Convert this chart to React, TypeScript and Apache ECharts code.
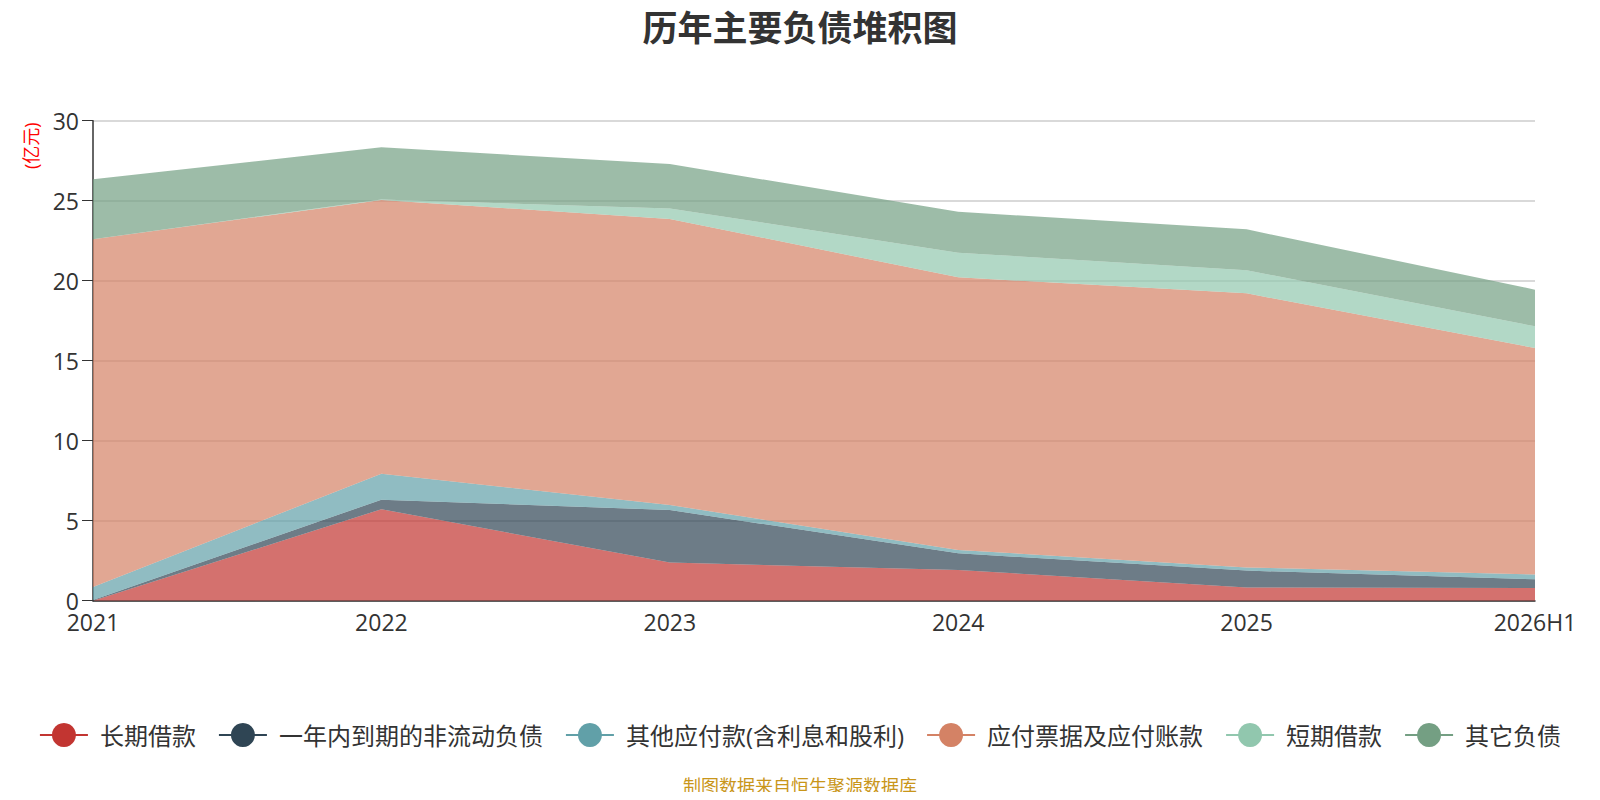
import React, { useEffect, useRef } from "react";
import * as echarts from "echarts";

const categories = ["2021", "2022", "2023", "2024", "2025", "2026H1"];
const longLoan = [0, 5.71, 2.38, 1.92, 0.83, 0.8];
const currentNonCurrent = [0.05, 0.6, 3.29, 1.04, 1.05, 0.54];
const otherPayables = [0.8, 1.63, 0.31, 0.21, 0.2, 0.3];
const notesPayable = [21.74, 17.1, 17.88, 17.04, 17.13, 14.15];
const shortLoan = [0, 0.03, 0.66, 1.54, 1.44, 1.36];
const otherLiab = [3.75, 3.27, 2.77, 2.56, 2.56, 2.29];

const seriesDefs = [
  { name: "长期借款", data: longLoan, color: "#c23531" },
  { name: "一年内到期的非流动负债", data: currentNonCurrent, color: "#2f4554" },
  { name: "其他应付款(含利息和股利)", data: otherPayables, color: "#61a0a8" },
  { name: "应付票据及应付账款", data: notesPayable, color: "#d48265" },
  { name: "短期借款", data: shortLoan, color: "#91c7ae" },
  { name: "其它负债", data: otherLiab, color: "#749f83" },
];

export default function App() {
  const ref = useRef<HTMLDivElement>(null);
  useEffect(() => {
    if (!ref.current) return;
    const chart = echarts.init(ref.current, null, { renderer: "svg" });
    const font = "'Open Sans', 'Noto Sans CJK SC', sans-serif";
    chart.setOption({
      animation: false,
      textStyle: { fontFamily: font },
      title: {
        text: "历年主要负债堆积图",
        left: "center",
        top: 5,
        textStyle: { fontSize: 35, fontWeight: "bold", color: "#333", fontFamily: font },
      },
      grid: { left: 93, right: 65, top: 120.7, bottom: 199.3 },
      legend: {
        bottom: 48,
        left: "center",
        itemWidth: 48,
        itemHeight: 30,
        itemGap: 22,
        lineStyle: { width: 2 },
        textStyle: { fontSize: 24, color: "#333", fontFamily: font, padding: [0, 0, 0, 7] },
        data: seriesDefs.map((s) => s.name),
      },
      xAxis: {
        type: "category",
        data: categories,
        boundaryGap: false,
        axisLine: { lineStyle: { color: "#333", width: 1.5 } },
        axisTick: { show: false },
        axisLabel: { fontSize: 23, color: "#333", margin: 10 },
      },
      yAxis: {
        type: "value",
        min: 0,
        max: 30,
        interval: 5,
        axisLine: { show: true, lineStyle: { color: "#333", width: 1.5 } },
        axisTick: { show: true, length: 11, lineStyle: { color: "#333" } },
        axisLabel: { fontSize: 23, color: "#333", margin: 14 },
        splitLine: { lineStyle: { color: "#ccc", width: 1.5 } },
      },
      graphic: [
        {
          type: "text",
          x: 22,
          y: 169,
          rotation: Math.PI / 2,
          style: { text: "(亿元)", fill: "#ff0000", fontSize: 18, fontFamily: font },
        },
        {
          type: "text",
          left: "center",
          top: 777,
          style: { text: "制图数据来自恒生聚源数据库", fill: "#c9961a", fontSize: 18, fontFamily: font },
        },
      ],
      series: seriesDefs.map((s) => ({
        name: s.name,
        type: "line",
        stack: "total",
        data: s.data,
        symbol: "circle",
        showSymbol: false,
        color: s.color,
        lineStyle: { width: 0, color: s.color },
        itemStyle: { color: s.color },
        areaStyle: { color: s.color, opacity: 0.7 },
      })),
    });
    return () => chart.dispose();
  }, []);
  return <div ref={ref} style={{ width: 1600, height: 800, margin: -8 }} />;
}
